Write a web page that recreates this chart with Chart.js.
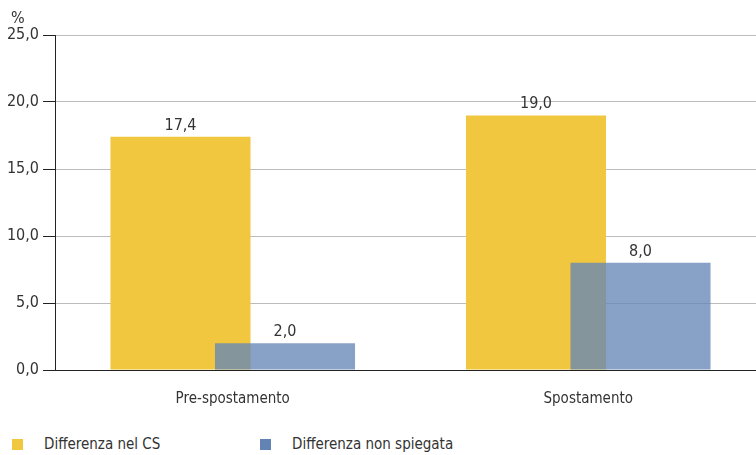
<!DOCTYPE html>
<html lang="it">
<head>
<meta charset="utf-8">
<title>Differenza nel CS</title>
<script src="https://cdn.jsdelivr.net/npm/chart.js@4/dist/chart.umd.min.js"></script>
<style>
  html, body { margin: 0; padding: 0; background: #fff; overflow: hidden; }
  body { width: 756px; height: 455px; position: relative;
         font-family: "Liberation Sans Narrow", "DejaVu Sans Condensed", sans-serif; color: #333; }
  #wrap { position: absolute; left: 0; top: 0; width: 756px; height: 420px; overflow: hidden; }
  #unit { position: absolute; left: 11px; top: 8px; font-size: 16px; }
  .leg { position: absolute; top: 434px; font-size: 15px; line-height: 20px; }
  .leg span { position: absolute; top: 5px; width: 11px; height: 11px; }
</style>
</head>
<body>
<div id="wrap"><canvas id="chart" width="766" height="420"></canvas></div>
<div id="unit">%</div>
<div id="legend"></div>
<script>
// categories and values
const categories = ['Pre-spostamento', 'Spostamento'];
const seriesNames = ['Differenza nel CS', 'Differenza non spiegata'];
const diffCS = [17.4, 19.0];
const diffUnexplained = [2.0, 8.0];
const yTicks = [0, 5, 10, 15, 20, 25];

const yellow = 'rgb(241, 199, 63)';
const blue = 'rgba(102, 134, 182, 0.78)';
const blueSolid = 'rgb(98, 131, 180)';
const textColor = '#333';
const fontFamily = '"Liberation Sans Narrow", "DejaVu Sans Condensed", sans-serif';

const fmt = v => Number(v).toFixed(1).replace('.', ',');

// build legend from the series names
const legendEl = document.getElementById('legend');
[[seriesNames[0], yellow, 12], [seriesNames[1], blueSolid, 260]].forEach(([name, color, left]) => {
  const item = document.createElement('div');
  item.className = 'leg';
  item.style.left = left + 'px';
  item.innerHTML = `<span style="background:${color};left:0"></span><div style="margin-left:32px">${name}</div>`;
  legendEl.appendChild(item);
});

// the blue series sits on top of the yellow one: skip it in the normal pass,
// draw it after, then put the value labels on both
const overlapAndLabels = {
  id: 'overlapAndLabels',
  beforeDatasetDraw(chart, args) {
    if (args.index === 1 && !chart._drawingBlue) return false;
  },
  afterDatasetsDraw(chart) {
    const ctx = chart.ctx;
    chart._drawingBlue = true;
    chart.getDatasetMeta(1).controller.draw();
    chart._drawingBlue = false;
    ctx.save();
    ctx.fillStyle = textColor;
    ctx.font = '16px ' + fontFamily;
    ctx.textAlign = 'center';
    ctx.textBaseline = 'alphabetic';
    chart.data.datasets.forEach((ds, i) => {
      chart.getDatasetMeta(i).data.forEach((bar, j) => {
        ctx.fillText(fmt(ds.data[j]), bar.x, bar.y - 7);
      });
    });
    ctx.restore();
  }
};

Chart.defaults.font.family = fontFamily;
Chart.defaults.font.size = 15;
Chart.defaults.color = textColor;

new Chart(document.getElementById('chart'), {
  type: 'bar',
  data: {
    labels: categories,
    datasets: [
      { label: seriesNames[0], data: diffCS, backgroundColor: yellow },
      { label: seriesNames[1], data: diffUnexplained, backgroundColor: blue }
    ]
  },
  options: {
    responsive: false,
    animation: false,
    layout: { padding: { top: 35, right: 0, bottom: 0, left: 0 } },
    datasets: { bar: { categoryPercentage: 0.588, barPercentage: 1.34 } },
    plugins: { legend: { display: false }, tooltip: { enabled: false } },
    scales: {
      x: {
        grid: { display: false },
        border: { display: true, color: '#222', width: 1 },
        ticks: { padding: 12, color: textColor },
        afterFit(scale) { scale.height = 50; }
      },
      y: {
        min: 0,
        max: 25,
        afterBuildTicks(scale) { scale.ticks = yTicks.map(v => ({ value: v })); },
        grid: {
          color: c => (c.tick && c.tick.value === 0 ? '#222' : '#bcbcbc'),
          tickColor: '#222',
          tickLength: 12,
          lineWidth: 1
        },
        border: { display: true, color: '#222', width: 1 },
        ticks: { padding: 4, color: textColor, font: { size: 16 }, callback: v => fmt(v) },
        afterFit(scale) { scale.width = 55; }
      }
    }
  },
  plugins: [overlapAndLabels]
});
</script>
</body>
</html>
